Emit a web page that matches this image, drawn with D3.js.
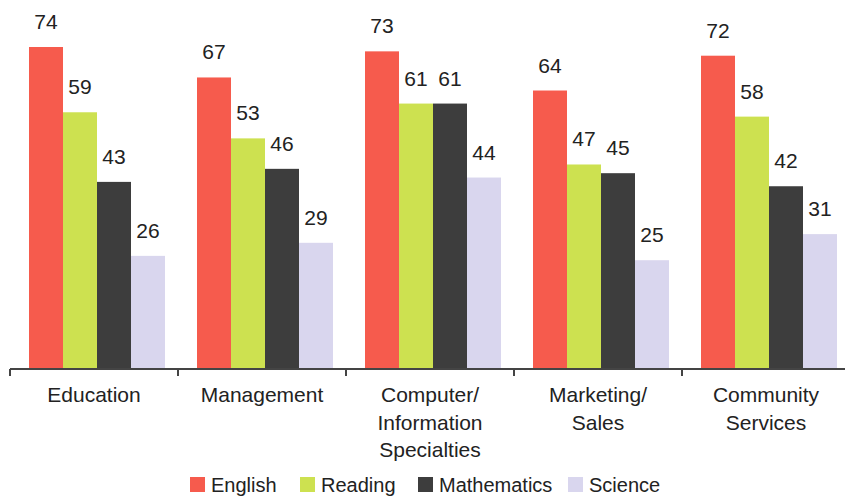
<!DOCTYPE html>
<html>
<head>
<meta charset="utf-8">
<script src="https://cdn.jsdelivr.net/npm/d3@7"></script>
<style>
  body { margin: 0; background: #fff; }
  text { font-family: "Liberation Sans", Arial, sans-serif; fill: #222; }
</style>
</head>
<body>
<svg width="845" height="497"></svg>
<script>
const categories = ['Education', 'Management', 'Computer/\nInformation\nSpecialties', 'Marketing/\nSales', 'Community\nServices'];
const seriesNames = ['English', 'Reading', 'Mathematics', 'Science'];
const english = [74, 67, 73, 64, 72];
const reading = [59, 53, 61, 47, 58];
const mathematics = [43, 46, 61, 45, 42];
const science = [26, 29, 44, 25, 31];
const colors = ['#f65b4d', '#cde150', '#3d3d3d', '#d9d6ee'];

const values = [english, reading, mathematics, science];
const data = categories.map((c, i) => ({
    category: c,
    bars: seriesNames.map((s, j) => ({ series: s, value: values[j][i] }))
}));

const svg = d3.select('svg');
const baseline = 369;

const xScale = d3.scaleBand()
    .range([10, 850])
    .domain(categories);

const xInner = d3.scaleBand()
    .range([19, xScale.bandwidth() - 13])
    .domain(seriesNames);

const yScale = d3.scaleLinear()
    .range([baseline, 47])
    .domain([0, 74]);

const groups = svg.selectAll('g.group')
    .data(data)
    .enter()
    .append('g')
    .attr('class', 'group')
    .attr('transform', (d) => `translate(${xScale(d.category)}, 0)`);

groups.selectAll('rect')
    .data((d) => d.bars)
    .enter()
    .append('rect')
    .attr('x', (b) => xInner(b.series))
    .attr('y', (b) => yScale(b.value))
    .attr('width', xInner.bandwidth())
    .attr('height', (b) => baseline - yScale(b.value))
    .attr('fill', (b, i) => colors[i]);

groups.selectAll('text.value')
    .data((d) => d.bars)
    .enter()
    .append('text')
    .attr('class', 'value')
    .attr('x', (b) => xInner(b.series) + xInner.bandwidth() / 2)
    .attr('y', (b) => yScale(b.value) - 18)
    .attr('text-anchor', 'middle')
    .style('font-size', '21px')
    .text((b) => b.value);

// axis line with ticks at band boundaries
const axis = svg.append('g')
    .attr('transform', `translate(0, ${baseline})`);

axis.append('line')
    .attr('x1', 10)
    .attr('x2', 845)
    .attr('stroke', '#444')
    .attr('stroke-width', 2);

axis.selectAll('line.tick')
    .data(categories)
    .enter()
    .append('line')
    .attr('class', 'tick')
    .attr('x1', (c) => xScale(c))
    .attr('x2', (c) => xScale(c))
    .attr('y1', 0)
    .attr('y2', 7)
    .attr('stroke', '#444')
    .attr('stroke-width', 2);

const catLabels = axis.selectAll('text.cat')
    .data(categories)
    .enter()
    .append('text')
    .attr('class', 'cat')
    .attr('text-anchor', 'middle')
    .style('font-size', '21px')
    .attr('transform', (c) => `translate(${xScale(c) + xScale.bandwidth() / 2}, 33)`);

catLabels.selectAll('tspan')
    .data((c) => c.split('\n'))
    .enter()
    .append('tspan')
    .attr('x', 0)
    .attr('y', (t, i) => i * 27.5)
    .text((t) => t);

// legend
const legendX = [190, 300, 418, 568];
const legend = svg.append('g')
    .attr('transform', 'translate(0, 477)');

const items = legend.selectAll('g')
    .data(seriesNames)
    .enter()
    .append('g')
    .attr('transform', (s, i) => `translate(${legendX[i]}, 0)`);

items.append('rect')
    .attr('width', 15)
    .attr('height', 15)
    .attr('fill', (s, i) => colors[i]);

items.append('text')
    .attr('x', 21)
    .attr('y', 15)
    .style('font-size', '20px')
    .text((s) => s);
</script>
</body>
</html>
